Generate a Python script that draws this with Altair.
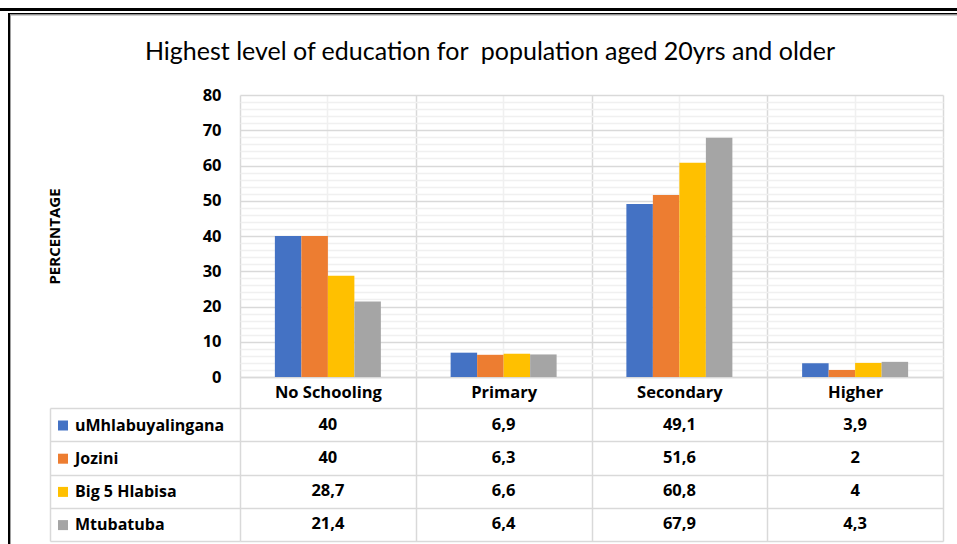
import altair as alt
import pandas as pd

# ---- data ----
categories = ["No Schooling", "Primary", "Secondary", "Higher"]
series = ["uMhlabuyalingana", "Jozini", "Big 5 Hlabisa", "Mtubatuba"]
umhlabuyalingana = [40, 6.9, 49.1, 3.9]
jozini = [40, 6.3, 51.6, 2]
big5_hlabisa = [28.7, 6.6, 60.8, 4]
mtubatuba = [21.4, 6.4, 67.9, 4.3]
series_colors = ["#4472C4", "#ED7D31", "#FFC000", "#A5A5A5"]
y_tick_values = [0, 10, 20, 30, 40, 50, 60, 70, 80]
y_minor_values = [2, 4, 6, 8, 12, 14, 16, 18, 22, 24, 26, 28, 32, 34, 36, 38,
                  42, 44, 46, 48, 52, 54, 56, 58, 62, 64, 66, 68, 72, 74, 76, 78]
title_text = "Highest level of education for\u00a0 population aged 20yrs and older"
y_title = "PERCENTAGE"

rows = []
for name, vals in zip(series, [umhlabuyalingana, jozini, big5_hlabisa, mtubatuba]):
    for cat, v in zip(categories, vals):
        rows.append({"category": cat, "series": name, "value": v,
                     "label": ("%g" % v).replace(".", ",")})
df = pd.DataFrame(rows)

FONT = "Open Sans"
TFONT = "Lato"
GRID = "#d9d9d9"
MINOR = "#f0f0f0"
OX, OY = 240, 95          # plot origin in the 957x544 canvas
W, H = 703, 282           # plot area
TABLE_TOP, TABLE_BOT = 408 - OY, 541 - OY
STEP = W / 4
GROUP = 106

x_scale = alt.Scale(paddingInner=0, paddingOuter=0)
y_scale = alt.Scale(domain=[0, 80], nice=False)
row_scale = alt.Scale(type="band", paddingInner=0, paddingOuter=0,
                      range=[TABLE_TOP, TABLE_BOT])

# minor grid (invisible bars, only the axes show)
minor = alt.Chart(df).mark_bar(opacity=0).encode(
    x=alt.X("category:N", sort=categories, scale=x_scale,
            axis=alt.Axis(orient="bottom", title=None, labels=False, ticks=False,
                          domain=False, grid=True, gridColor=MINOR, gridWidth=1.5)),
    y=alt.Y("value:Q", scale=y_scale,
            axis=alt.Axis(orient="left", title=None, labels=False, ticks=False,
                          domain=False, grid=True, gridColor=MINOR, gridWidth=1.5,
                          values=y_minor_values)),
)

bars = alt.Chart(df).mark_bar().encode(
    x=alt.X("category:N", sort=categories, scale=x_scale,
            axis=alt.Axis(orient="bottom", title=None, labelAngle=0, tickBand="extent",
                          ticks=True, tickSize=TABLE_BOT - H, tickColor=GRID, tickWidth=1.5,
                          grid=True, gridColor=GRID, gridWidth=1.5,
                          domain=True, domainColor=GRID, domainWidth=1.5,
                          labelFont=FONT, labelFontSize=16.5, labelFontWeight="bold",
                          labelColor="black", labelBaseline="middle",
                          labelPadding=15 - (TABLE_BOT - H))),
    xOffset=alt.XOffset("series:N", sort=series,
                        scale=alt.Scale(paddingInner=0,
                                        range=[(STEP - GROUP) / 2, (STEP + GROUP) / 2])),
    y=alt.Y("value:Q", scale=y_scale,
            axis=alt.Axis(orient="left", values=y_tick_values, ticks=False, domain=False,
                          grid=True, gridColor=GRID, gridWidth=1.5,
                          labelFont=FONT, labelFontSize=16.5, labelFontWeight="bold",
                          labelColor="black", labelPadding=19,
                          title=y_title, titleFont=FONT, titleFontSize=15,
                          titleFontWeight="bold", titleColor="black",
                          titleX=54 - OX, titleY=H / 2, titleAngle=270,
                          titleAlign="center", titleBaseline="middle")),
    color=alt.Color("series:N", sort=series,
                    scale=alt.Scale(domain=series, range=series_colors),
                    legend=alt.Legend(title=None, orient="none", legendX=55 - OX,
                                      legendY=417.5 - OY,
                                      direction="vertical", symbolType="square",
                                      symbolSize=100, symbolStrokeWidth=0,
                                      labelFont=FONT, labelFontSize=16,
                                      labelFontWeight="bold", labelColor="black",
                                      labelOffset=4, rowPadding=17.2, padding=0)),
)

# ---- data table below the plot ----
cells = alt.Chart(df).mark_text(font=FONT, fontSize=16.5, fontWeight="bold",
                                color="black").encode(
    x=alt.X("category:N", sort=categories, scale=x_scale, axis=None),
    y=alt.Y("series:N", sort=series, scale=row_scale,
            axis=alt.Axis(orient="left", title=None, labels=False, domain=False,
                          ticks=True, tickSize=OX - 50, tickBand="extent",
                          tickColor=GRID, tickWidth=1.5,
                          grid=True, gridColor=GRID, gridWidth=1.5)),
    text="label:N",
)
border = alt.Chart(df).mark_text(opacity=0).encode(
    y=alt.Y("series:N", sort=series, scale=row_scale,
            axis=alt.Axis(orient="left", offset=OX - 50, title=None, labels=False,
                          ticks=False, grid=False, domain=True, domainColor=GRID,
                          domainWidth=1.5)),
    text="label:N",
)

one = pd.DataFrame({"title": [title_text]})
title = alt.Chart(one).mark_text(font=TFONT, fontSize=25, fontWeight="normal", color="black",
                                 align="center", baseline="alphabetic").encode(
    x=alt.value(490 - OX), y=alt.value(60 - OY), text="title:N")


def frame_rect(x0, x1, y0, y1, color):
    return alt.Chart(one).mark_rect(fill=color).encode(
        x=alt.value(x0 - OX), x2=alt.value(x1 - OX),
        y=alt.value(y0 - OY), y2=alt.value(y1 - OY))


frames = [
    frame_rect(0, 957, 8, 11, "black"),
    frame_rect(8, 957, 13, 14.5, "black"),
    frame_rect(10, 957, 14.5, 15.5, "#a0a0a0"),
    frame_rect(8, 10, 13, 544, "black"),
    frame_rect(10, 11, 14.5, 544, "#a0a0a0"),
]

chart = alt.layer(minor, bars, cells, border, title, *frames).resolve_scale(
    y="independent"
).resolve_axis(x="independent", y="independent").properties(
    width=W, height=H,
    autosize=alt.AutoSizeParams(type="none"),
    padding={"left": OX, "top": OY, "right": 957 - OX - W, "bottom": 544 - OY - H},
    background="white",
).configure_view(stroke=None)

chart.save("out.html", embed_options={"renderer": "svg", "actions": False})
